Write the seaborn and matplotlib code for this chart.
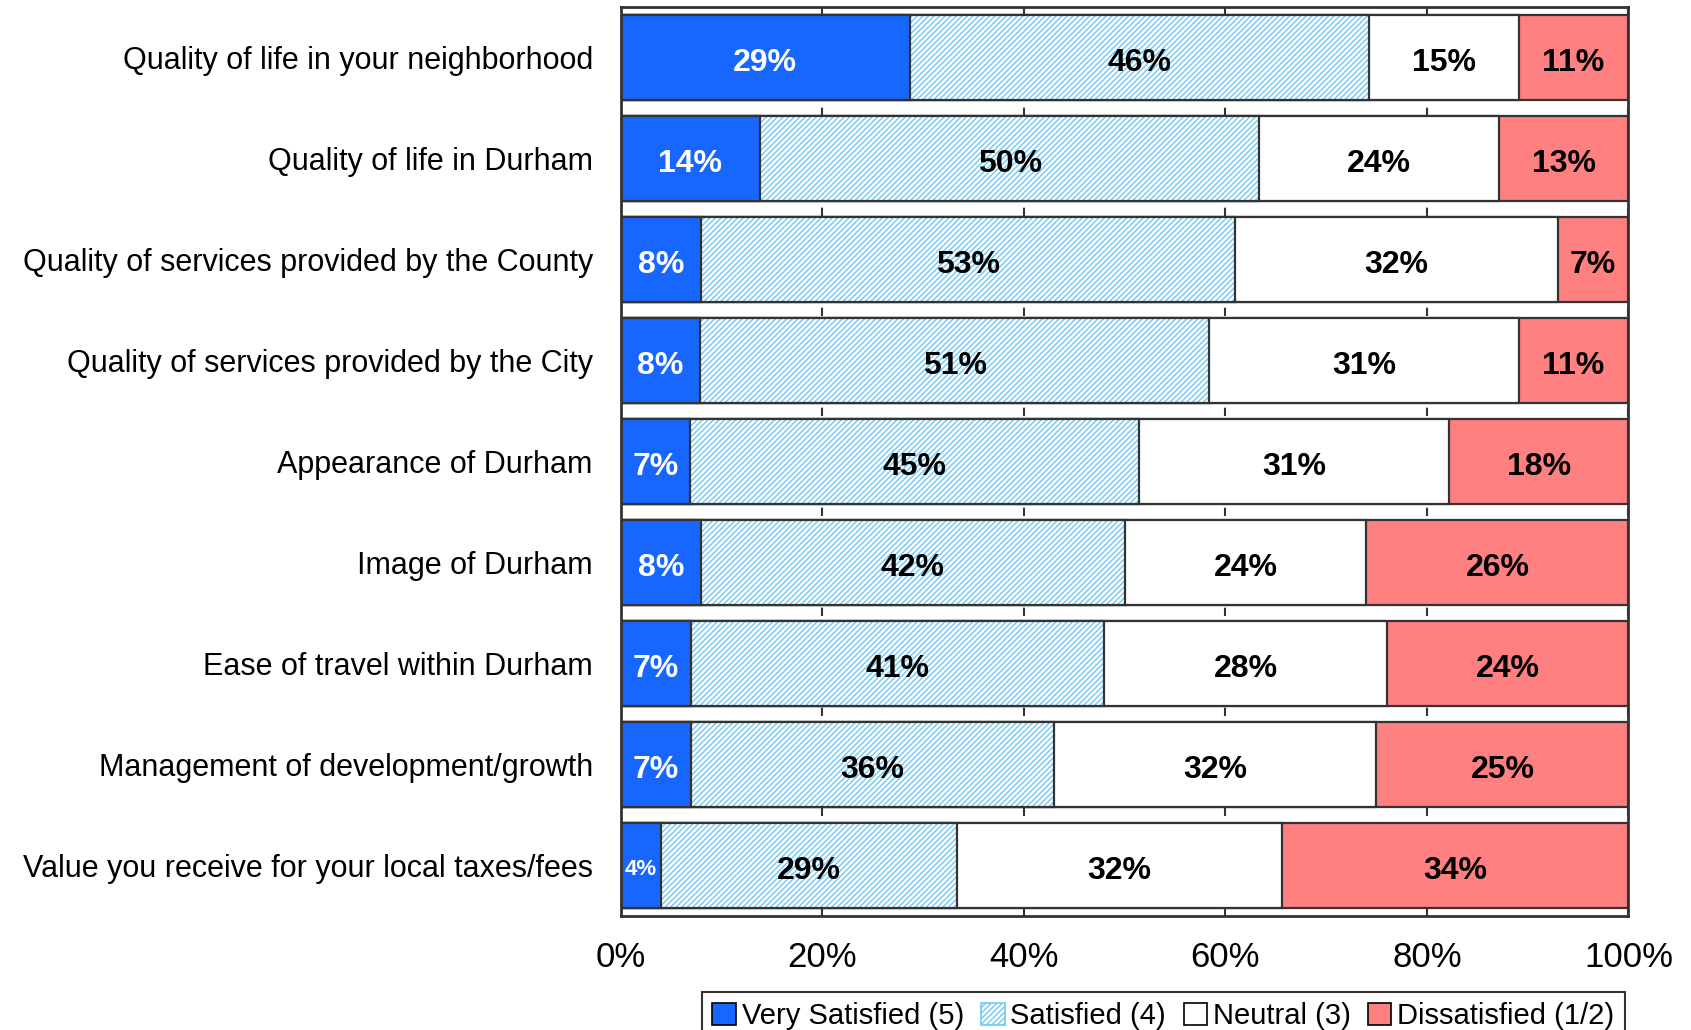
import matplotlib
matplotlib.use("Agg")
import matplotlib.pyplot as plt
import matplotlib.patches as mpatches
from matplotlib.ticker import FuncFormatter
import numpy as np
import pandas as pd
import seaborn as sns

# Survey items (top to bottom)
categories = [
    "Quality of life in your neighborhood",
    "Quality of life in Durham",
    "Quality of services provided by the County",
    "Quality of services provided by the City",
    "Appearance of Durham",
    "Image of Durham",
    "Ease of travel within Durham",
    "Management of development/growth",
    "Value you receive for your local taxes/fees",
]

# Response shares (%) per item
very_satisfied = [29, 14, 8, 8, 7, 8, 7, 7, 4]
satisfied = [46, 50, 53, 51, 45, 42, 41, 36, 29]
neutral = [15, 24, 32, 31, 31, 24, 28, 32, 32]
dissatisfied = [11, 13, 7, 11, 18, 26, 24, 25, 34]

series_names = ["Very Satisfied (5)", "Satisfied (4)", "Neutral (3)", "Dissatisfied (1/2)"]
xtick_values = [0, 20, 40, 60, 80, 100]

BLUE = "#1767FF"
HATCH_BLUE = "#6EC8F5"
RED = "#FF8080"
EDGE = "#333333"

sns.set_style("white")
plt.rcParams["font.family"] = ["Liberation Sans", "DejaVu Sans"]
plt.rcParams["hatch.linewidth"] = 1.0
plt.rcParams["text.color"] = "black"
plt.rcParams["xtick.color"] = "black"
plt.rcParams["ytick.color"] = "black"

vals = np.array([very_satisfied, satisfied, neutral, dissatisfied], dtype=float)
# 100% stacked: each row scaled to its total
share = vals / vals.sum(axis=0) * 100
cum = np.cumsum(share, axis=0)

df = pd.DataFrame({"item": categories})
for k in range(4):
    df[f"c{k}"] = cum[k]

fig = plt.figure(figsize=(16.91, 10.30), dpi=100)
ax = fig.add_axes([0.367, 0.111, 0.596, 0.882])

BW = 0.84
common = dict(y="item", orient="h", width=BW, saturation=1, ax=ax, zorder=2)

# Draw cumulative layers from the outermost segment inwards
sns.barplot(data=df, x="c3", color=RED, edgecolor=EDGE, linewidth=1.6, **common)
sns.barplot(data=df, x="c2", color="white", edgecolor=EDGE, linewidth=1.6, **common)
# Hatched "Satisfied" layer: white fill with blue diagonal hatching, then outline
sns.barplot(data=df, x="c1", color="white", edgecolor=HATCH_BLUE, linewidth=0,
            hatch="//////", **common)
sns.barplot(data=df, x="c1", fill=False, edgecolor=EDGE, linewidth=1.6, **common)
sns.barplot(data=df, x="c0", color=BLUE, edgecolor=EDGE, linewidth=1.6, **common)

# Segment labels
for i in range(len(categories)):
    start = 0.0
    for k in range(4):
        w = share[k, i]
        center = start + w / 2
        start += w
        color = "white" if k == 0 else "black"
        size = 16 if vals[k, i] < 5 else 23
        ax.text(center, i + 0.02, f"{int(vals[k, i])}%", ha="center", va="center_baseline",
                fontsize=size, fontweight="bold", color=color, zorder=5)

ax.set_xlim(0, 100)
ax.set_xticks(xtick_values)
ax.xaxis.set_major_formatter(FuncFormatter(lambda v, p: f"{int(v)}%"))
ax.set_xlabel("")
ax.set_ylabel("")
ax.tick_params(axis="x", labelsize=25, length=0, pad=18, labelcolor="black")
ax.tick_params(axis="y", labelsize=22, length=0, pad=20, labelcolor="black")

ax.grid(axis="x", color=EDGE, linestyle=(0, (4, 4)), linewidth=1.5)
ax.grid(axis="y", visible=False)
ax.set_axisbelow(True)
for s in ax.spines.values():
    s.set_visible(True)
    s.set_color(EDGE)
    s.set_linewidth(2)

handles = [
    mpatches.Patch(facecolor=BLUE, edgecolor="black", linewidth=1.2),
    mpatches.Patch(facecolor="white", edgecolor=HATCH_BLUE, hatch="//////", linewidth=1.2),
    mpatches.Patch(facecolor="white", edgecolor="black", linewidth=1.2),
    mpatches.Patch(facecolor=RED, edgecolor="black", linewidth=1.2),
]
leg = fig.legend(handles, series_names, loc="upper center", bbox_to_anchor=(0.688, 0.037),
                 ncol=4, fontsize=21, frameon=True, fancybox=False, edgecolor="black",
                 handlelength=0.8, handleheight=0.8, handletextpad=0.2, columnspacing=0.6,
                 borderpad=0.35, borderaxespad=0)
leg.get_frame().set_linewidth(1.5)

fig.savefig("out.png", dpi=100)
